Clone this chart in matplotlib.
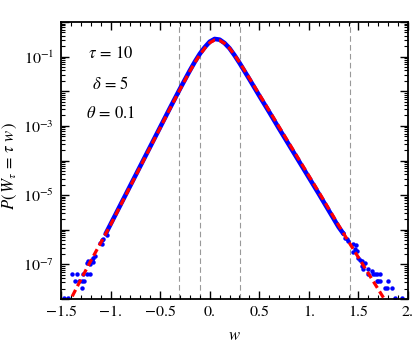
import matplotlib
matplotlib.use("Agg")
import matplotlib.pyplot as plt
import matplotlib.ticker as mticker
import numpy as np

plt.rcParams["font.family"] = "STIXGeneral"
plt.rcParams["mathtext.fontset"] = "stix"

# theory curve (red dashed), log10 P
w_theory = [-1.44, -1.3, -1.2, -1.1, -1.0, -0.9, -0.8, -0.7, -0.6, -0.5, -0.4, -0.3,
            -0.2, -0.15, -0.1, -0.05, 0.0, 0.05, 0.1, 0.15, 0.2, 0.25, 0.3, 0.4, 0.5,
            0.6, 0.7, 0.8, 0.9, 1.0, 1.1, 1.2, 1.3, 1.4, 1.5, 1.6, 1.7, 1.8]
logp_theory = [-8.22, -7.44, -6.90, -6.38, -5.86, -5.30, -4.74, -4.18, -3.62, -3.06, -2.50, -1.95,
               -1.42, -1.17, -0.95, -0.76, -0.60, -0.52, -0.53, -0.62, -0.76, -0.95, -1.16, -1.62, -2.09,
               -2.56, -3.03, -3.50, -3.97, -4.44, -4.91, -5.39, -5.87, -6.34, -6.80, -7.26, -7.72, -8.18]

# simulation, dense part (blue band)
w_sim = [-1.05, -1.0, -0.9, -0.8, -0.7, -0.6, -0.5, -0.4, -0.3, -0.2, -0.15, -0.1, -0.05,
         0.0, 0.05, 0.1, 0.15, 0.2, 0.25, 0.3, 0.4, 0.5, 0.6, 0.7, 0.8, 0.9, 1.0, 1.1,
         1.2, 1.3, 1.35]
logp_sim = [-6.12, -5.84, -5.28, -4.72, -4.16, -3.60, -3.04, -2.48, -1.93, -1.40, -1.15, -0.92, -0.73,
            -0.57, -0.49, -0.51, -0.61, -0.76, -0.96, -1.18, -1.65, -2.13, -2.60, -3.08, -3.55, -4.02, -4.49, -4.96,
            -5.44, -5.92, -6.12]

# simulation, sparse tails (blue dots)
w_tail = [-1.47, -1.43, -1.392, -1.34, -1.28, -1.24, -1.21,
          -1.355, -1.32, -1.29, -1.265, -1.291,
          -1.241, -1.224, -1.19, -1.174, -1.207, -1.157, -1.174,
          -1.106, -1.089, -1.073, -1.039, -1.09,
          1.349, 1.366, 1.383, 1.399, 1.45, 1.477, 1.443, 1.467, 1.484,
          1.50, 1.517, 1.534, 1.55, 1.567, 1.534, 1.55, 1.601, 1.635, 1.651,
          1.668, 1.719, 1.686, 1.601, 1.686, 1.719, 1.702, 1.803,
          1.769, 1.787, 1.837, 1.87, 1.938]
logp_tail = [-7.97, -7.97, -7.27, -7.27, -7.27, -7.27, -7.27,
             -7.49, -7.49, -7.49, -7.49, -7.67,
             -6.95, -6.90, -6.86, -6.93, -7.00, -6.76, -6.83,
             -6.37, -6.30, -6.28, -6.16, -6.40,
             -6.09, -6.23, -6.28, -6.33, -6.42, -6.45, -6.65, -6.57, -6.62,
             -6.81, -6.86, -6.90, -7.00, -6.95, -7.05, -7.12, -7.12, -7.19, -7.27,
             -7.27, -7.27, -7.27, -7.27, -7.49, -7.49, -7.49, -7.49,
             -7.67, -7.67, -7.67, -7.97, -7.97]

vlines = [-0.31, -0.094, 0.31, 1.41]
xticks = [-1.5, -1.0, -0.5, 0.0, 0.5, 1.0, 1.5, 2.0]
xticklabels = ["\u22121.5", "\u22121.", "\u22120.5", "0.", "0.5", "1.", "1.5", "2."]
params = ["$\\tau\\,=\\,10$", "$\\delta\\,=\\,5$", "$\\theta\\,=\\,0.1$"]

fig = plt.figure(figsize=(4.15, 3.46), dpi=100)
ax = fig.add_axes([61 / 415, 1 - 299 / 346, 347 / 415, 277 / 346])

for x in vlines:
    ax.axvline(x, color="0.6", lw=0.8, ls=(0, (5, 3)), zorder=1)

ax.plot(w_sim, 10 ** np.array(logp_sim), color="blue", lw=3.3,
        solid_capstyle="round", zorder=2)
ax.plot(w_tail, 10 ** np.array(logp_tail), "o", color="blue", ms=3.2,
        mec="none", zorder=2)
ax.plot(w_theory, 10 ** np.array(logp_theory), color="red", lw=2.3,
        dashes=(2.3, 1.3), zorder=3)

ax.set_yscale("log")
ax.set_xlim(-1.5, 2.0)
ax.set_ylim(1e-8, 1.0)

ax.xaxis.set_major_locator(mticker.FixedLocator(xticks))
ax.xaxis.set_major_formatter(mticker.FixedFormatter(xticklabels))
ax.xaxis.set_minor_locator(mticker.MultipleLocator(0.1))

ax.yaxis.set_major_locator(mticker.LogLocator(base=10, numticks=20))
ax.yaxis.set_minor_locator(mticker.LogLocator(base=10, subs=np.arange(2, 10), numticks=20))


def ylab(v, pos):
    e = int(round(np.log10(v)))
    return f"$10^{{{e}}}$" if e % 2 else ""


ax.yaxis.set_major_formatter(mticker.FuncFormatter(ylab))
ax.yaxis.set_minor_formatter(mticker.NullFormatter())

ax.tick_params(which="both", direction="in", top=True, right=True, labelsize=11.5)
ax.tick_params(which="major", length=6, width=1.0, pad=5)
ax.tick_params(which="minor", length=3, width=0.8)
for s in ax.spines.values():
    s.set_linewidth(1.3)

for i, t in enumerate(params):
    ax.text(0.142, 0.883 - i * 0.108, t, transform=ax.transAxes, fontsize=12,
            ha="center", va="center")

ax.set_xlabel("$w$", fontsize=12)
ax.xaxis.set_label_coords(0.5, -0.105)
ax.set_ylabel("$P(\\,W_{\\tau}\\,=\\,\\tau\\ w\\,)$", fontsize=12)
ax.yaxis.set_label_coords(-0.122, 0.48)

fig.savefig("out.png", dpi=100)
